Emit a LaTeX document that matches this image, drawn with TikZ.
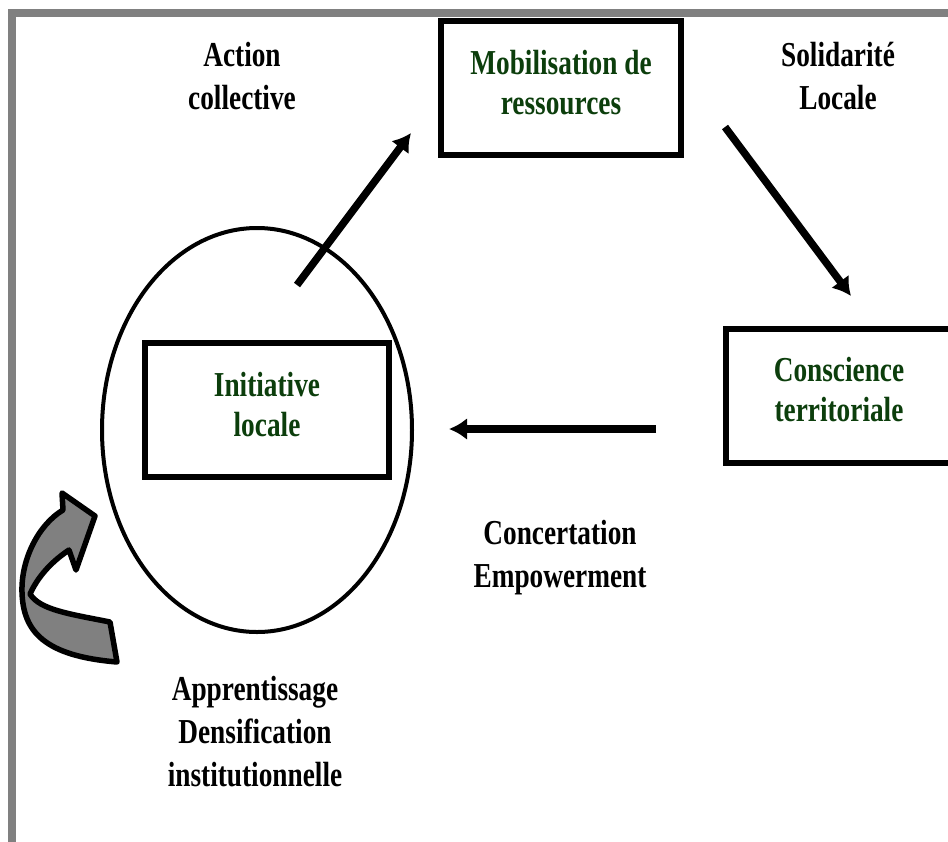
\documentclass[tikz,border=0pt]{standalone}
\usepackage{fontspec}
\setmainfont[FakeStretch=0.78]{Liberation Serif}
\usetikzlibrary{arrows.meta,positioning,shapes.geometric}
\definecolor{vert}{RGB}{12,62,12}
\definecolor{cadre}{RGB}{128,128,128}

\begin{document}
\begin{tikzpicture}[x=1pt,y=-1pt]
\tikzstyle{boite}=[rectangle,draw,line width=5.5pt,minimum width=240pt,minimum height=134pt,align=center,text=vert,font=\bfseries\fontsize{35}{40}\selectfont]
\tikzstyle{etiq}=[align=center,font=\bfseries\fontsize{35}{43}\selectfont]
\tikzstyle{fleche}=[-{Latex[length=18pt,width=22pt]},line width=7.5pt]
\tikzstyle{tourbillon}=[fill=cadre,draw,line width=5.5pt,line join=round]
\useasboundingbox (0,0) rectangle (948,841);
\clip (0,0) rectangle (948,841);
\draw[cadre,line width=8pt] (12,13) rectangle (980,880);
% cycle
\node[ellipse,draw,line width=4pt,minimum width=310pt,minimum height=404pt,inner sep=0pt] (cercle) at (257,430) {};
\node[boite,minimum width=244pt] (init) at (267,410) {Initiative\\locale\rule[-12pt]{0pt}{0pt}};
\node[boite] (mobil) at (561,88) {Mobilisation de\\ressources\rule[-12pt]{0pt}{0pt}};
\node[boite,minimum width=226pt] (consc) at (839,396) {Conscience\\territoriale\rule[-14pt]{0pt}{0pt}};
\node[etiq] (action) at (242,76) {Action\\collective};
\node[etiq] (solid) at (838,76) {Solidarité\\Locale};
\node[etiq] (concert) at (560,558) {Concertation\\Empowerment};
\node[etiq] (appr) at (255,732) {Apprentissage\\Densification\\institutionnelle};
% fleches
\coordinate (a1) at (297,285); \coordinate (b1) at (411,133);
\coordinate (a2) at (725,127); \coordinate (b2) at (851,296);
\coordinate (a3) at (656,429); \coordinate (b3) at (449,429);
\draw[fleche] (a1)--(b1);
\draw[fleche] (a2)--(b2);
\draw[fleche] (a3)--(b3);
% boucle
\draw[tourbillon] (110,622) .. controls (70,614) and (40,610) .. (30,594)
  .. controls (40,572) and (57,558) .. (69,550)
  -- (76,570) -- (95,516) -- (62,493) -- (63,510)
  .. controls (38,525) and (21,560) .. (22,592)
  .. controls (23,632) and (45,656) .. (117,662) -- cycle;
\end{tikzpicture}
\end{document}
